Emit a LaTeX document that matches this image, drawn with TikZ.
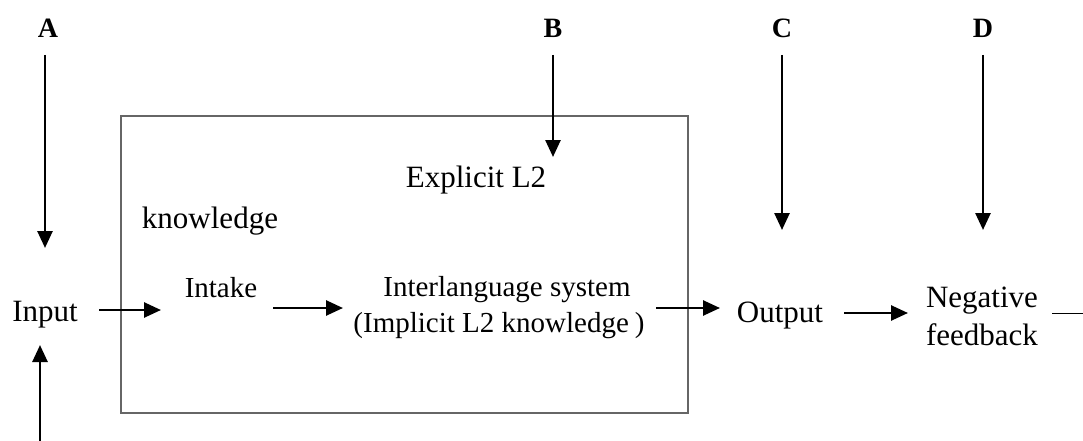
\documentclass[tikz,border=0pt]{standalone}
\usepackage{fontspec}
\setmainfont{Liberation Serif}
\usetikzlibrary{arrows.meta}

\tikzset{
  txt/.style={font=\fontsize{31}{36}\selectfont,inner sep=0pt,anchor=base},
  smalltxt/.style={font=\fontsize{29}{36}\selectfont,inner sep=0pt,anchor=base},
  lbl/.style={font=\fontsize{28}{30}\selectfont\bfseries,inner sep=0pt,anchor=base},
  arr/.style={line width=2.6pt,-{Triangle[length=17pt,width=15pt]}},
  frame/.style={draw=black!60,line width=1.5pt}
}

\begin{document}
\begin{tikzpicture}[x=1pt,y=-1pt]
      \useasboundingbox (0,0) rectangle (1083,441);
      % box of the learner
      \coordinate(F1) at (121,116);
      \coordinate(F2) at (688,413);
      \draw[frame](F1) rectangle (F2);
      % labels and texts
      \node[lbl](A) at (48,38){A};
      \node[lbl](B) at (553,38){B};
      \node[lbl](C) at (782,38){C};
      \node[lbl](D) at (983,38){D};
      \node[txt](input) at (45,321){Input};
      \node[smalltxt](intake) at (221,297){Intake};
      \node[smalltxt](inter) at (507,296){Interlanguage system};
      \node[smalltxt](implicit) at (499,332){(Implicit L2 knowledge\hspace{6pt})};
      \node[txt](explicit) at (476,187){Explicit L2};
      \node[txt](knowledge) at (210,228){knowledge};
      \node[txt](output) at (780,322){Output};
      \node[txt](negative) at (982,307){Negative};
      \node[txt](feedback) at (982,345){feedback};
      % arrow ends
      \coordinate(a0) at (45,55);
      \coordinate(a1) at (45,248);
      \coordinate(b0) at (553,55);
      \coordinate(b1) at (553,157);
      \coordinate(c0) at (782,55);
      \coordinate(c1) at (782,230);
      \coordinate(d0) at (983,55);
      \coordinate(d1) at (983,230);
      \coordinate(e0) at (40,441);
      \coordinate(e1) at (40,345);
      \coordinate(in0) at (99,310);
      \coordinate(in1) at (161,310);
      \coordinate(ik0) at (273,308);
      \coordinate(ik1) at (343,308);
      \coordinate(il0) at (656,308);
      \coordinate(il1) at (720,308);
      \coordinate(out0) at (844,313);
      \coordinate(out1) at (908,313);
      \coordinate(ng0) at (1052,313);
      \coordinate(ng1) at (1083,313);
      \draw[arr](a0)--(a1);
      \draw[arr](b0)--(b1);
      \draw[arr](c0)--(c1);
      \draw[arr](d0)--(d1);
      \draw[arr](e0)--(e1);
      \draw[arr](in0)--(in1);
      \draw[arr](ik0)--(ik1);
      \draw[arr](il0)--(il1);
      \draw[arr](out0)--(out1);
      \draw[line width=1pt](ng0)--(ng1);
    \end{tikzpicture}
\end{document}
